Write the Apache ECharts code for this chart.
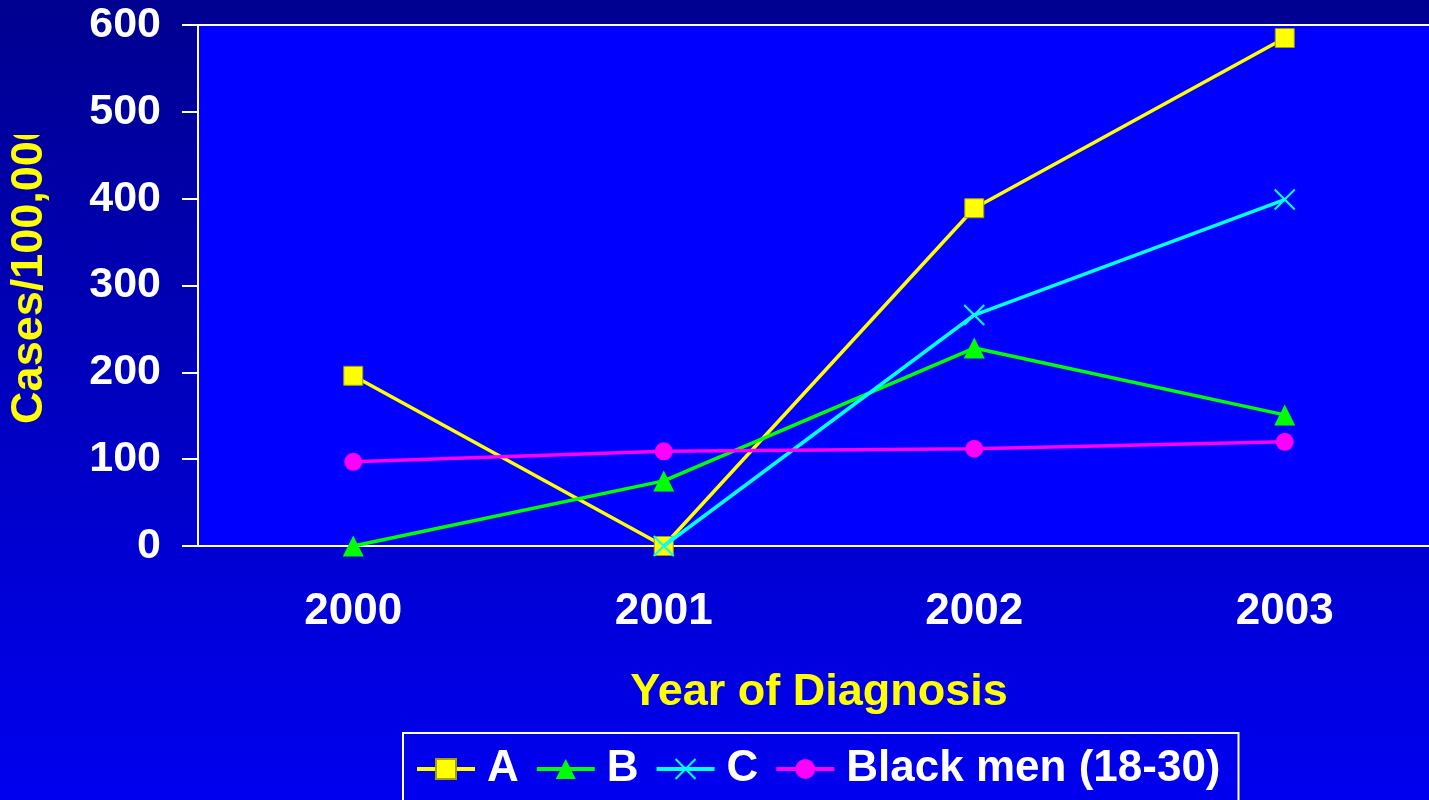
<!DOCTYPE html>
<html>
<head>
<meta charset="utf-8">
<script src="https://cdn.jsdelivr.net/npm/echarts@6/dist/echarts.min.js"></script>
<style>
  html, body { margin: 0; padding: 0; background: #000090; }
  #chart { width: 1429px; height: 800px; }
</style>
</head>
<body>
<div id="chart"></div>
<script>
// Rates per 100,000 by year of diagnosis
const years = ['2000', '2001', '2002', '2003'];
const seriesA = [196, 0, 389, 585];
const seriesB = [0, 75, 228, 151];
const seriesC = [null, 0, 266, 399];
const blackMen = [97, 109, 112, 120];
const yTicks = [0, 100, 200, 300, 400, 500, 600];

const FONT = '"Liberation Sans", Arial, Helvetica, sans-serif';

const bgStops = [
  { offset: 0, color: '#000090' },
  { offset: 1, color: '#0000F0' }
];

const chart = echarts.init(document.getElementById('chart'), null, { renderer: 'canvas' });

const crossPath = 'path://M0,0L10,10M10,0L0,10';

chart.setOption({
  animation: false,
  backgroundColor: { type: 'linear', x: 0, y: 0, x2: 0, y2: 1, colorStops: bgStops },
  grid: {
    left: 198, top: 25, width: 1242, height: 521,
    outerBoundsMode: 'none',
    containLabel: false,
    show: true, backgroundColor: '#0000FF',
    borderColor: '#FFFFFF', borderWidth: 2
  },
  legend: {
    left: 403, top: 733,
    orient: 'horizontal',
    padding: [14, 18, 40, 12],
    itemGap: 16,
    itemWidth: 58,
    itemHeight: 25,
    borderColor: '#FFFFFF', borderWidth: 2,
    selectedMode: false,
    lineStyle: { width: 4 },
    textStyle: {
      color: '#FFFFFF', fontFamily: FONT, fontWeight: 'bold', fontSize: 44,
      padding: [0, 0, 0, 7]
    },
    data: ['A', 'B', 'C', 'Black men (18-30)']
  },
  xAxis: {
    type: 'category',
    data: years,
    boundaryGap: true,
    axisLine: { show: true, lineStyle: { color: '#FFFFFF', width: 2 } },
    axisTick: { show: false },
    axisLabel: {
      color: '#FFFFFF', fontFamily: FONT, fontWeight: 'bold', fontSize: 44, margin: 44
    },
    name: 'Year of Diagnosis',
    nameLocation: 'middle',
    nameGap: 124,
    nameTextStyle: {
      color: '#FFFF00', fontFamily: FONT, fontWeight: 'bold', fontSize: 45
    },
    splitLine: { show: false }
  },
  yAxis: {
    type: 'value',
    min: yTicks[0], max: yTicks[yTicks.length - 1], interval: 100,
    axisLine: { show: true, lineStyle: { color: '#FFFFFF', width: 2 } },
    axisTick: { show: true, inside: false, length: 16, lineStyle: { color: '#FFFFFF', width: 2 } },
    axisLabel: {
      color: '#FFFFFF', fontFamily: FONT, fontWeight: 'bold', fontSize: 43, margin: 37
    },
    splitLine: { show: false }
  },
  graphic: [
    {
      type: 'text',
      x: 30, y: 270,
      rotation: Math.PI / 2,
      z: 10,
      style: {
        text: 'Cases/100,000',
        fill: '#FFFF00',
        font: 'bold 45px ' + FONT,
        align: 'center',
        verticalAlign: 'middle'
      }
    },
    {
      // the axis title is cut off at its top end
      type: 'rect',
      z: 11,
      shape: { x: 0, y: 0, width: 90, height: 135 },
      style: {
        fill: { type: 'linear', x: 0, y: 0, x2: 0, y2: 800, global: true, colorStops: bgStops }
      }
    }
  ],
  series: [
    {
      name: 'A', type: 'line', data: seriesA,
      symbol: 'rect', symbolSize: 19,
      lineStyle: { color: '#FFFF00', width: 3.5 },
      itemStyle: { color: '#FFFF00', borderColor: '#A0A000', borderWidth: 1 },
      z: 2
    },
    {
      name: 'B', type: 'line', data: seriesB,
      symbol: 'triangle', symbolSize: 21,
      lineStyle: { color: '#00FF00', width: 3.5 },
      itemStyle: { color: '#00FF00' },
      z: 3
    },
    {
      name: 'C', type: 'line', data: seriesC,
      symbol: crossPath, symbolSize: 20,
      lineStyle: { color: '#00FFFF', width: 3.5 },
      itemStyle: { color: 'rgba(0,0,0,0)', borderColor: '#00FFFF', borderWidth: 2 },
      z: 4
    },
    {
      name: 'Black men (18-30)', type: 'line', data: blackMen,
      symbol: 'circle', symbolSize: 18,
      lineStyle: { color: '#FF00FF', width: 3.5 },
      itemStyle: { color: '#FF00FF' },
      z: 5
    }
  ]
});
</script>
</body>
</html>
